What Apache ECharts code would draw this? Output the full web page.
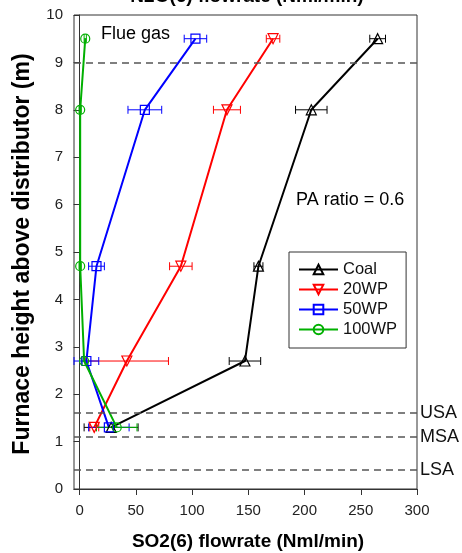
<!DOCTYPE html>
<html>
<head>
<meta charset="utf-8">
<script src="https://cdn.jsdelivr.net/npm/echarts@6/dist/echarts.min.js"></script>
<style>
  html, body { margin: 0; padding: 0; background: #fff; }
  #chart { width: 462px; height: 553px; }
</style>
</head>
<body>
<div id="chart"></div>
<script>
// Sampling heights above the distributor (m)
const heights = [9.5, 8.0, 4.7, 2.7, 1.3];

// SO2(6) flowrate (Nml/min) and error half-widths per fuel case
const coal     = [265, 206, 159, 147, 28];
const coalErr  = [7, 14, 4, 14, 24];
const wp20     = [172, 131, 90, 42, 13];
const wp20Err  = [6, 12, 10, 37, 4];
const wp50     = [103, 58, 15, 6, 26];
const wp50Err  = [10, 15, 7, 11, 18];
const wp100    = [5, 0.5, 0.5, 4, 33];
const wp100Err = [1, 1, 1, 2, 18];

const seriesNames = ['Coal', '20WP', '50WP', '100WP'];
const xTicks = [0, 50, 100, 150, 200, 250, 300];

// Reference levels: flue gas outlet and the secondary-air ports
const refLevels = [
  { y: 9, label: '' },
  { y: 1.6, label: 'USA' },
  { y: 1.1, label: 'MSA' },
  { y: 0.4, label: 'LSA' }
];

const FONT = '"Liberation Sans", Arial, sans-serif';
const colors = ['#000000', '#ff0000', '#0000ff', '#00b000'];
const symbols = ['triangle', 'triangle', 'rect', 'circle'];
const rotations = [0, 180, 0, 0];
const sizes = [10, 10, 9, 9];
const values = [coal, wp20, wp50, wp100];
const errors = [coalErr, wp20Err, wp50Err, wp100Err];

function pairs(xs) { return xs.map((x, i) => [x, heights[i]]); }
function errData(xs, es) { return xs.map((x, i) => [x, heights[i], es[i]]); }

// Horizontal error bar with end caps
function errorBarRenderer(color) {
  return function (params, api) {
    const x = api.value(0), y = api.value(1), e = api.value(2);
    const p0 = api.coord([x - e, y]);
    const p1 = api.coord([x + e, y]);
    const cap = 4;
    const style = { stroke: color, lineWidth: 1 };
    return {
      type: 'group',
      children: [
        { type: 'line', shape: { x1: p0[0], y1: p0[1], x2: p1[0], y2: p1[1] }, style },
        { type: 'line', shape: { x1: p0[0], y1: p0[1] - cap, x2: p0[0], y2: p0[1] + cap }, style },
        { type: 'line', shape: { x1: p1[0], y1: p1[1] - cap, x2: p1[0], y2: p1[1] + cap }, style }
      ]
    };
  };
}

const series = [];
seriesNames.forEach((name, k) => {
  series.push({
    name: name + ' error',
    type: 'custom',
    renderItem: errorBarRenderer(colors[k]),
    data: errData(values[k], errors[k]),
    encode: { x: 0, y: 1 },
    silent: true,
    z: 2
  });
});
seriesNames.forEach((name, k) => {
  const s = {
    name: name,
    type: 'line',
    data: pairs(values[k]),
    symbol: symbols[k],
    symbolSize: sizes[k],
    symbolRotate: rotations[k],
    showAllSymbol: true,
    lineStyle: { color: colors[k], width: 2 },
    itemStyle: { color: 'rgba(255,255,255,0)', borderColor: colors[k], borderWidth: 1.2 },
    z: 3
  };
  if (k === 0) {
    s.markLine = {
      silent: true,
      symbol: 'none',
      lineStyle: { color: '#555', type: [7, 5], width: 1.5 },
      label: {
        show: true,
        position: 'end',
        formatter: p => p.name,
        fontFamily: FONT,
        fontSize: 18,
        color: '#111',
        distance: 3
      },
      data: refLevels.map(r => ({ name: r.label, yAxis: r.y }))
    };
  }
  series.push(s);
});

const chart = echarts.init(document.getElementById('chart'));
chart.setOption({
  animation: false,
  backgroundColor: '#fff',
  grid: {
    left: 74, right: 45, top: 15, bottom: 64,
    show: true, borderColor: '#333', borderWidth: 1, backgroundColor: 'transparent'
  },
  xAxis: {
    type: 'value',
    min: -5,
    max: 300,
    axisLine: { show: true, lineStyle: { color: '#333', width: 1 } },
    axisTick: { show: true, inside: false, length: 6, customValues: xTicks, lineStyle: { color: '#333' } },
    axisLabel: { customValues: xTicks, fontFamily: FONT, fontSize: 15, color: '#222', margin: 14 },
    splitLine: { show: false }
  },
  yAxis: {
    type: 'value',
    min: 0,
    max: 10,
    interval: 1,
    axisLine: { show: true, lineStyle: { color: '#333', width: 1 } },
    axisTick: { show: true, inside: false, length: 6, lineStyle: { color: '#333' } },
    axisLabel: { fontFamily: FONT, fontSize: 15, color: '#222', margin: 11 },
    splitLine: { show: false }
  },
  legend: {
    orient: 'vertical',
    left: 289,
    top: 252,
    padding: [9, 9, 10, 9],
    itemWidth: 39,
    itemHeight: 12,
    itemGap: 3,
    borderColor: '#333',
    borderWidth: 1,
    backgroundColor: '#fff',
    textStyle: { fontFamily: FONT, fontSize: 16.5, color: '#111' },
    data: seriesNames
  },
  graphic: [
    {
      type: 'text', x: 247, y: 6,
      style: { text: 'N2O(6) flowrate (Nml/min)', font: 'bold 19px ' + FONT, fill: '#000', align: 'center', verticalAlign: 'bottom' }
    },
    {
      type: 'text', x: 248, y: 542,
      style: { text: 'SO2(6) flowrate (Nml/min)', font: 'bold 19px ' + FONT, fill: '#000', align: 'center', verticalAlign: 'middle' }
    },
    {
      type: 'text', x: 23, y: 254, rotation: Math.PI / 2,
      style: { text: 'Furnace height above distributor (m)', font: 'bold 23px ' + FONT, fill: '#000', align: 'center', verticalAlign: 'middle' }
    },
    {
      type: 'text', x: 101, y: 34,
      style: { text: 'Flue gas', font: '18px ' + FONT, fill: '#000', align: 'left', verticalAlign: 'middle' }
    },
    {
      type: 'text', x: 296, y: 200,
      style: { text: 'PA ratio = 0.6', font: '18px ' + FONT, fill: '#000', align: 'left', verticalAlign: 'middle' }
    }
  ],
  series: series
});
</script>
</body>
</html>
